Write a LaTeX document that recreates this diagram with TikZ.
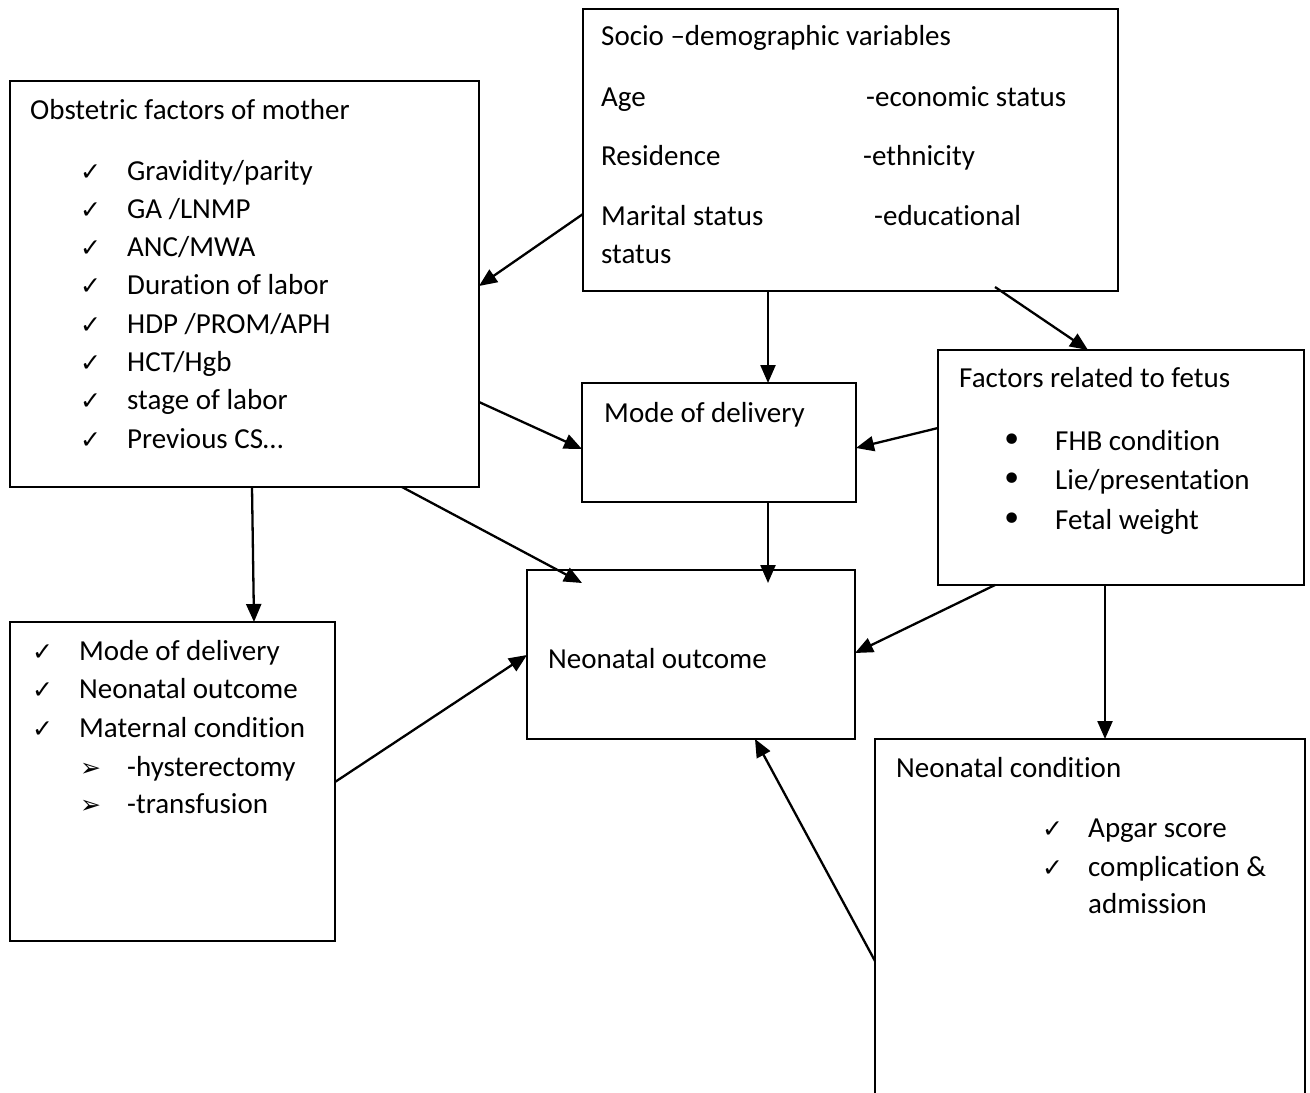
\documentclass[tikz,border=0pt]{standalone}
\usepackage{fontspec}
\setmainfont{Carlito}[Ligatures=NoCommon]
\newfontfamily\dejavu{DejaVu Sans}
\usetikzlibrary{arrows.meta,calc}

\newcommand{\chk}{{\dejavu\fontsize{25}{25}\selectfont ✓}}
\newcommand{\arrbul}{{\dejavu\fontsize{25}{25}\selectfont ➢}}
\newcommand{\dotbul}{{\dejavu\fontsize{36}{36}\selectfont •}}

\begin{document}
\begin{tikzpicture}[x=1pt, y=-1pt,
	box/.style={draw, line width=1.6pt, anchor=north west, inner sep=0pt, outer sep=0pt},
	txt/.style={anchor=base west, inner sep=0pt, font=\fontsize{29}{38}\selectfont},
	arr/.style={-{Triangle[length=18pt,width=15pt]}, line width=2.3pt}]

	\useasboundingbox (0,0) rectangle (1310,1093);
	\clip (0,0) rectangle (1310,1093);

	\node[box, minimum width=469pt, minimum height=406pt] (obst) at (10,81) {};
	\node[box, minimum width=535pt, minimum height=282pt] (socio) at (583,9) {};
	\node[box, minimum width=274pt, minimum height=119pt] (mode) at (582,383) {};
	\node[box, minimum width=366pt, minimum height=235pt] (fetus) at (938,350) {};
	\node[box, minimum width=328pt, minimum height=169pt] (outcome) at (527,570) {};
	\node[box, minimum width=325pt, minimum height=319pt] (mat) at (10,622) {};
	\node[box, minimum width=430pt, minimum height=400pt] (cond) at (875,739) {};

	% obstetric factors
	\node[txt] (obtitle) at (30,119) {Obstetric factors of mother};
	\foreach \t [count=\i] in {{Gravidity/parity}, {GA /LNMP}, {ANC/MWA}, {Duration of labor},
		{HDP /PROM/APH}, {HCT/Hgb}, {stage of labor}, {Previous CS…}} {
		\node[txt] (obk\i) at (80,141.7+38.3*\i) {\chk};
		\node[txt] (ob\i) at (127,141.7+38.3*\i) {\t};
	}

	% socio-demographic
	\node[txt] (sotitle) at (601,45) {Socio –demographic variables};
	\node[txt] (so1) at (601,106) {Age};
	\node[txt] (so2) at (601,165) {Residence};
	\node[txt] (so3) at (601,225) {Marital status};
	\node[txt] (so4) at (601,263) {status};
	\node[txt] (so5) at (866,106) {-economic status};
	\node[txt] (so6) at (863,165) {-ethnicity};
	\node[txt] (so7) at (874,225) {-educational};

	\node[txt] (modetxt) at (604,422) {Mode of delivery};
	\node[txt] (outtxt) at (548,668) {Neonatal outcome};

	% fetus
	\node[txt] (fetitle) at (959,387) {Factors related to fetus};
	\foreach \t [count=\i] in {{FHB condition}, {Lie/presentation}, {Fetal weight}} {
		\node[txt, anchor=base] (feb\i) at (1012,412.5+39.5*\i) {\dotbul};
		\node[txt] (fe\i) at (1055,410.5+39.5*\i) {\t};
	}

	% maternal list
	\foreach \t [count=\i] in {{Mode of delivery}, {Neonatal outcome}, {Maternal condition}} {
		\node[txt] (mak\i) at (32,621.5+38.5*\i) {\chk};
		\node[txt] (ma\i) at (79,621.5+38.5*\i) {\t};
	}
	\node[txt] (maa1) at (80,776) {\arrbul};
	\node[txt] (mab1) at (127,776) {-hysterectomy};
	\node[txt] (maa2) at (80,813) {\arrbul};
	\node[txt] (mab2) at (127,813) {-transfusion};

	% neonatal condition
	\node[txt] (cotitle) at (896,777) {Neonatal condition};
	\node[txt] (cok1) at (1042,837) {\chk};
	\node[txt] (co1) at (1088,837) {Apgar score};
	\node[txt] (cok2) at (1042,876) {\chk};
	\node[txt] (co2) at (1088,876) {complication \&};
	\node[txt] (co3) at (1088,913) {admission};

	% arrows
	\draw[arr] (socio.west |- 0,214) -- (obst.east |- 0,286);
	\draw[arr] (socio.south -| 768,0) -- (mode.north -| 768,0);
	\draw[arr] ($(socio.south -| 995,0)+(0,-4)$) -- (fetus.north -| 1088,0);
	\draw[arr] (obst.east |- 0,402) -- (mode.west |- 0,449);
	\draw[arr] (fetus.west |- 0,428) -- (mode.east |- 0,448);
	\draw[arr] (obst.south -| 402,0) -- ($(outcome.north -| 582,0)+(0,13)$);
	\draw[arr] (mode.south -| 768,0) -- ($(outcome.north -| 768,0)+(0,13)$);
	\draw[arr] (obst.south -| 252,0) -- (mat.north -| 254,0);
	\draw[arr] (mat.east |- 0,782) -- (outcome.west |- 0,655);
	\draw[arr] (fetus.south -| 995,0) -- (outcome.east |- 0,653);
	\draw[arr] (fetus.south -| 1105,0) -- (cond.north -| 1105,0);
	\draw[arr] (cond.west |- 0,961) -- (outcome.south -| 755,0);
\end{tikzpicture}
\end{document}
